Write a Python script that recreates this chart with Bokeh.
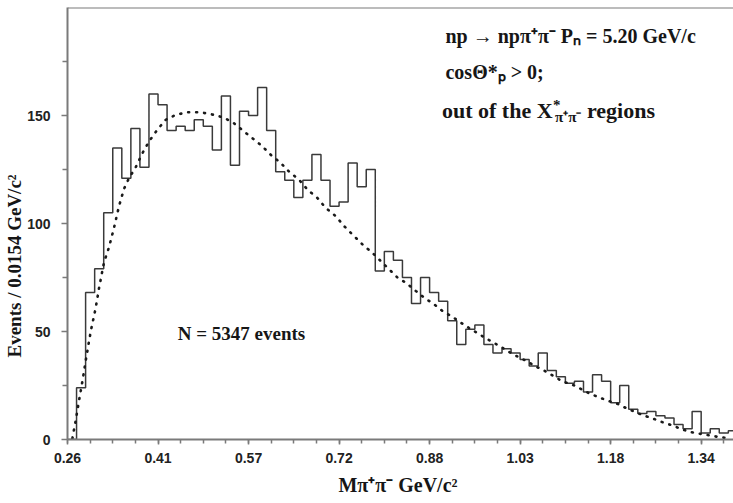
import numpy as np
from bokeh.plotting import figure
from bokeh.models import FixedTicker, Label, Span, Range1d, Title
from bokeh.embed import file_html
from bokeh.resources import INLINE

# Histogram of the pi+ pi- invariant mass, bins of 0.0154 GeV/c^2 starting at 0.26
bin_width = 0.0154
mass_start = 0.26
counts = [0, 24, 68, 79, 105, 135, 121, 144, 126, 160,
          155, 143, 145, 143, 148, 145, 134, 159, 127, 152,
          150, 163, 143, 124, 120, 112, 120, 132, 120, 108,
          110, 128, 117, 125, 78, 87, 83, 75, 63, 75,
          68, 64, 55, 44, 51, 53, 44, 40, 42, 40,
          37, 34, 40, 32, 29, 26, 27, 22, 30, 27,
          17, 25, 14, 12, 13, 11, 10, 7, 5, 13,
          3, 5, 3, 4]

# Fitted background curve (mass in GeV/c^2, events per bin)
fit_mass = [0.2683, 0.2740, 0.2796, 0.2854, 0.2910, 0.2995, 0.3080, 0.3136, 0.3221, 0.3306,
            0.3391, 0.3476, 0.3561, 0.3646, 0.3760, 0.3874, 0.3987, 0.4130, 0.4271, 0.4441,
            0.4640, 0.4866, 0.5093, 0.5263, 0.5433, 0.5603, 0.5746, 0.5916, 0.6058, 0.6228,
            0.6369, 0.6539, 0.6682, 0.6852, 0.6993, 0.7164, 0.7305, 0.7448, 0.7618, 0.7788,
            0.7929, 0.8071, 0.8213, 0.8355, 0.8525, 0.8666, 0.8836, 0.8979, 0.9149, 0.9290,
            0.9461, 0.9602, 0.9772, 0.9915, 1.0085, 1.0226, 1.0396, 1.0538, 1.0708, 1.0878,
            1.1021, 1.1191, 1.1332, 1.1473, 1.1644, 1.1787, 1.1957, 1.2098, 1.2268, 1.2409,
            1.2580, 1.2722, 1.2893, 1.3034, 1.3204, 1.3374, 1.3544, 1.3714, 1.3850]
fit_events = [0.5, 8.8, 18, 27, 36.5, 50, 61, 70, 82, 89,
              98, 108, 116, 121, 126, 132.5, 138, 143.5, 148, 150.3,
              151.5, 151.5, 150.3, 149, 146.4, 142.6, 139.5, 135.7, 131.8, 128,
              124, 120.3, 115.7, 111.8, 107.2, 103.4, 98.8, 94.9, 90.3, 86.4,
              82.6, 78.8, 75, 72.6, 68.8, 65.7, 62.6, 59.5, 56.8, 54.1,
              51.1, 48.8, 46, 43.8, 41, 38.8, 36.5, 34.2, 31.9, 29.2,
              26.9, 25.4, 23.4, 21.4, 19.5, 18, 16.5, 14.6, 12.6, 11.1,
              9.5, 8, 6.5, 4.9, 3.4, 2.6, 1.8, 1.0, 0.6]

# Axis ticks
x_tick_values = [0.26 + 0.154 * k for k in range(8)]
x_tick_labels = ["0.26", "0.41", "0.57", "0.72", "0.88", "1.03", "1.18", "1.34"]
x_minor_values = [0.26 + 0.0385 * k for k in range(30)]
y_tick_values = [0, 50, 100, 150]
y_minor_values = [25, 75, 125, 175]

AXIS_GREY = "#7a7a7a"
TEXT = "#161616"
SERIF = "Liberation Serif"

p = figure(width=733, height=503,
           x_range=Range1d(0.26, 1.393), y_range=Range1d(0, 200),
           output_backend="svg", toolbar_location=None,
           min_border_left=67, min_border_right=0,
           min_border_top=7, min_border_bottom=64)
p.grid.visible = False
p.outline_line_color = None
p.background_fill_color = "white"
p.border_fill_color = "white"

p.xaxis.ticker = FixedTicker(ticks=x_tick_values, minor_ticks=x_minor_values)
p.xaxis.major_label_overrides = {t: s for t, s in zip(x_tick_values, x_tick_labels)}
p.yaxis.ticker = FixedTicker(ticks=y_tick_values, minor_ticks=y_minor_values)

for ax in (p.xaxis, p.yaxis):
    ax.axis_line_color = AXIS_GREY
    ax.axis_line_width = 2
    ax.major_tick_line_color = AXIS_GREY
    ax.major_tick_line_width = 1.5
    ax.minor_tick_line_color = AXIS_GREY
    ax.minor_tick_line_width = 1.5
    ax.major_tick_in = 0
    ax.minor_tick_in = 0
    ax.major_label_text_font = "Liberation Sans"
    ax.major_label_text_font_style = "bold"
    ax.major_label_text_font_size = "14px"
    ax.major_label_text_color = "#222222"

p.xaxis.major_tick_out = 5
p.xaxis.minor_tick_out = 4
p.xaxis.major_label_standoff = 8
p.yaxis.major_tick_out = 6
p.yaxis.minor_tick_out = 5
p.yaxis.major_label_standoff = 11

# x-axis title
p.xaxis.axis_label = "Mπ⁺π⁻  GeV/c²"
p.xaxis.axis_label_text_font = SERIF
p.xaxis.axis_label_text_font_style = "bold"
p.xaxis.axis_label_text_font_size = "20px"
p.xaxis.axis_label_text_color = TEXT
p.xaxis.axis_label_standoff = 8

# y-axis title, anchored from the bottom so it sits below the frame centre
p.add_layout(Title(text="Events / 0.0154 GeV/c²", align="left", offset=82,
                   text_font=SERIF, text_font_style="bold", text_font_size="19px",
                   text_color=TEXT, standoff=0), "left")

# Top frame line
p.add_layout(Span(location=200, dimension="width", line_color=AXIS_GREY, line_width=2))

# Histogram outline
edges = mass_start + bin_width * np.arange(len(counts) + 1)
step_vals = list(counts) + [counts[-1]]
p.step(x=edges, y=step_vals, mode="after", line_color="#3a3a3a", line_width=1.5)

# Dotted fit curve
p.line(fit_mass, fit_events, line_color="#1a1a1a", line_width=2.6,
       line_dash="1 7", line_cap="round")


def text(x, y, s, size="20px", xo=0, yo=0):
    lab = Label(x=x, y=y, text=s, x_offset=xo, y_offset=yo,
                text_font=SERIF, text_font_style="bold", text_font_size=size,
                text_color=TEXT, text_align="left", text_baseline="middle")
    p.add_layout(lab)


# Reaction and selection notes
text(0.903, 187, "np → npπ⁺π⁻  Pₙ = 5.20 GeV/c")
text(0.903, 170, "cosΘ*ₚ > 0;")
text(0.897, 152.3, "out of the X", size="22px")
text(0.897, 152.3, "*", size="15px", xo=111, yo=6)
text(0.897, 152.3, "π⁺π⁻", size="15px", xo=113, yo=-6)
text(0.897, 152.3, "regions", size="22px", xo=145)

text(0.4475, 49, "N = 5347 events", size="19px")

open("out.html", "w").write(file_html(p, INLINE))
